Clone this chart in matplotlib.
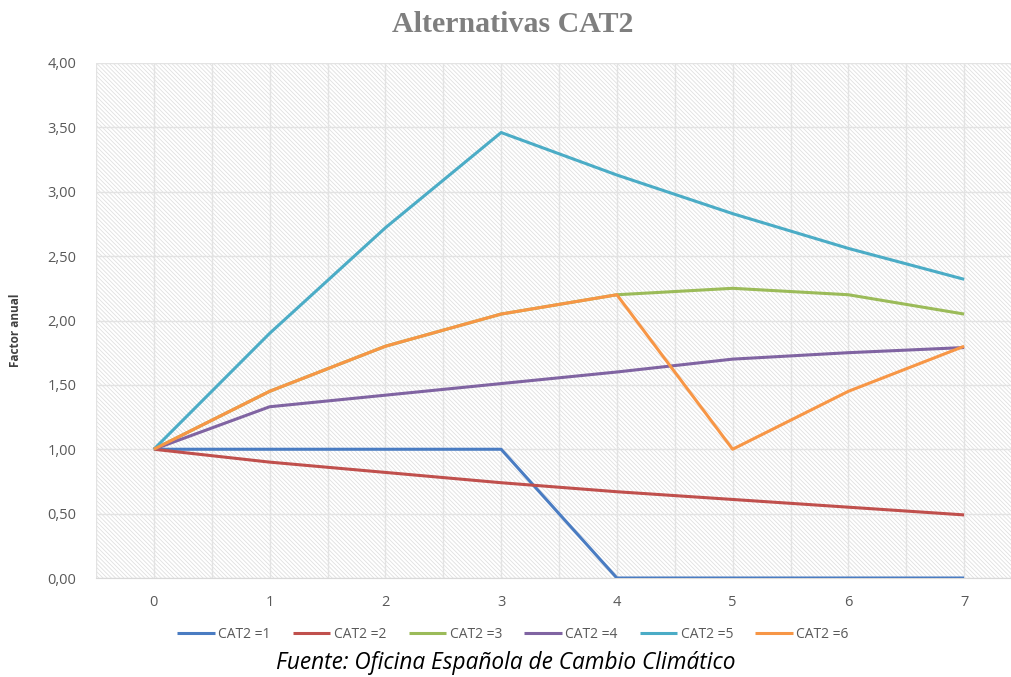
import numpy as np
import matplotlib
matplotlib.use("Agg")
import matplotlib.pyplot as plt

# Datos: factor anual por periodo para cada alternativa CAT2
periodos = [0, 1, 2, 3, 4, 5, 6, 7]
cat1 = [1.00, 1.00, 1.00, 1.00, 0.00, 0.00, 0.00, 0.00]
cat2 = [1.00, 0.90, 0.82, 0.74, 0.67, 0.61, 0.55, 0.49]
cat3 = [1.00, 1.45, 1.80, 2.05, 2.20, 2.25, 2.20, 2.05]
cat4 = [1.00, 1.33, 1.42, 1.51, 1.60, 1.70, 1.75, 1.79]
cat5 = [1.00, 1.90, 2.72, 3.46, 3.13, 2.83, 2.56, 2.32]
cat6 = [1.00, 1.45, 1.80, 2.05, 2.20, 1.00, 1.45, 1.80]

series = [cat1, cat2, cat3, cat4, cat5, cat6]
etiquetas = ["CAT2 =1", "CAT2 =2", "CAT2 =3", "CAT2 =4", "CAT2 =5", "CAT2 =6"]
colores = ["#4a7cc2", "#c0504d", "#9bbb59", "#8064a2", "#4bacc6", "#f79646"]
yticks = [0, 0.5, 1, 1.5, 2, 2.5, 3, 3.5, 4]

plt.rcParams["hatch.linewidth"] = 0.6
plt.rcParams["font.family"] = ["Open Sans", "DejaVu Sans"]

W, H = 1011, 677
fig = plt.figure(figsize=(W / 100, H / 100), dpi=100)
ax = fig.add_axes([96 / W, (H - 578) / H, (1022 - 96) / W, (578 - 63) / H])

# fondo rayado
ax.patch.set_facecolor("white")
ax.patch.set_hatch("\\" * 8)
ax.patch.set_edgecolor("#e0e0e0")
ax.patch.set_linewidth(0)

for vals, lab, col in zip(series, etiquetas, colores):
    ax.plot(periodos, vals, color=col, lw=2.2, label=lab, solid_capstyle="butt", zorder=3)

ax.set_xlim(-0.5, 7.5)
ax.set_ylim(0, 4)
ax.set_xticks(periodos)
ax.set_xticks(np.arange(-0.5, 8, 1), minor=True)
ax.set_yticks(yticks)
ax.set_yticklabels([f"{v:.2f}".replace(".", ",") for v in yticks])
ax.grid(True, which="both", color="#e3e3e3", lw=1.0, zorder=1)
ax.set_axisbelow(True)
ax.tick_params(which="both", length=0, labelsize=10.5, labelcolor="#595959")
ax.tick_params(axis="x", pad=12)
ax.tick_params(axis="y", pad=14)
for s in ["top", "right", "left"]:
    ax.spines[s].set_visible(False)
ax.spines["bottom"].set_color("#d9d9d9")

fig.text(16 / W, (H - 330) / H, "Factor anual", rotation=90, ha="center", va="center",
         fontsize=8.5, fontweight="bold", color="#404040")

fig.text(513 / W, (H - 25) / H, "Alternativas CAT2", ha="center", va="center",
         fontsize=21.5, fontweight="bold", color="#7f7f7f",
         family=["Liberation Serif"])

ax.legend(loc="center", bbox_to_anchor=(513 / W, (H - 634) / H), bbox_transform=fig.transFigure,
          ncol=6, frameon=False, fontsize=10, handlelength=2.7, handletextpad=0.25,
          columnspacing=1.6, labelcolor="#595959")

fig.text(506 / W, (H - 663) / H, "Fuente: Oficina Española de Cambio Climático",
         ha="center", va="center", fontsize=16.3, style="italic", color="black")

fig.savefig("out.png", dpi=100)
